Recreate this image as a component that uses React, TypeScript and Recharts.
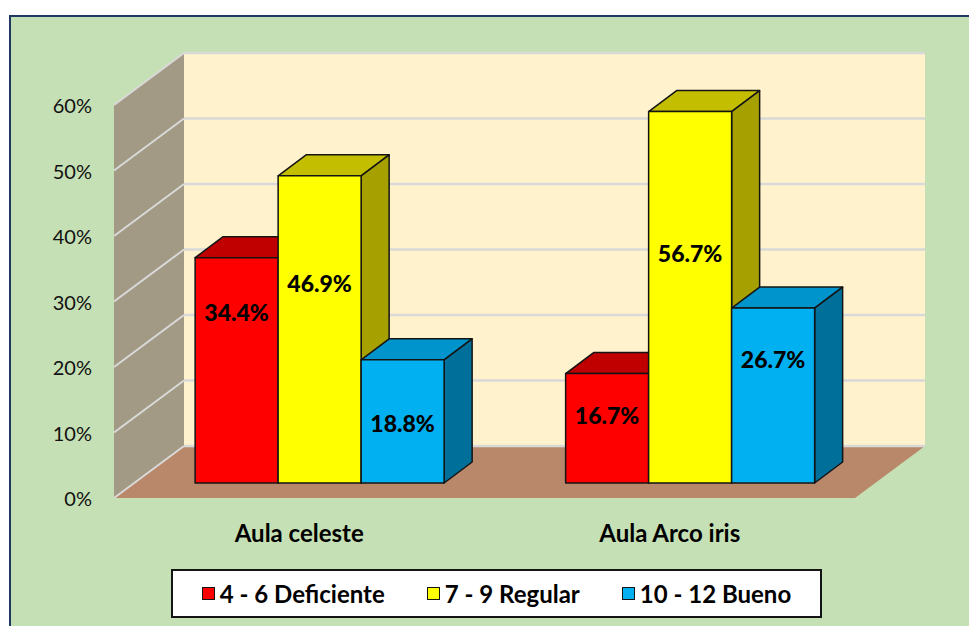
import {
  Bar,
  BarChart,
  CartesianGrid,
  LabelList,
  Legend,
  XAxis,
  YAxis,
} from "recharts";

const CATEGORIES = ["Aula celeste", "Aula Arco iris"];
const DEFICIENTE = [34.4, 16.7];
const REGULAR = [46.9, 56.7];
const BUENO = [18.8, 26.7];
const Y_TICKS = [0, 10, 20, 30, 40, 50, 60];

const W = 969;
const H = 626;
const FONT = "Lato, 'Noto Sans', sans-serif";

// plano frontal de las barras
const PLOT_LEFT = 134;
const PLOT_RIGHT = 875;
const PLOT_TOP = 90;
const PLOT_BOTTOM = 483;
const XAXIS_H = 30;
const YAXIS_W = 60;
const LEGEND_H = 49;

// desplazamientos oblicuos (efecto 3D)
const BAR_DX = 28;
const BAR_DY = 21;
const WALL_DX = 50;
const WALL_DY = 37;
const FRONT_DX = 20;
const FRONT_DY = 15;

const SERIES = [
  {
    key: "deficiente",
    name: "4 - 6 Deficiente",
    values: DEFICIENTE,
    front: "#FF0000",
    top: "#C00000",
    side: "#990000",
    labelAt: [0.24, 0.38],
  },
  {
    key: "regular",
    name: "7 - 9 Regular",
    values: REGULAR,
    front: "#FFFF00",
    top: "#C4BE00",
    side: "#A6A000",
    labelAt: [0.35, 0.38],
  },
  {
    key: "bueno",
    name: "10 - 12 Bueno",
    values: BUENO,
    front: "#00B0F0",
    top: "#0094CC",
    side: "#006F99",
    labelAt: [0.51, 0.29],
  },
];

const data = CATEGORIES.map((name, i) => {
  const row: Record<string, string | number> = { name };
  SERIES.forEach((s) => (row[s.key] = s.values[i]));
  return row;
});

type Colors = { front: string; top: string; side: string };

function Box3D(props: any & { colors: Colors }) {
  const x = Number(props.x);
  const y = Number(props.y);
  const w = Number(props.width);
  const h = Number(props.height);
  const { colors } = props;
  const x2 = x + w;
  const y2 = y + h;
  const line = { stroke: "#141414", strokeWidth: 1.5, strokeLinejoin: "round" as const };
  return (
    <g>
      <polygon
        points={`${x},${y} ${x2},${y} ${x2 + BAR_DX},${y - BAR_DY} ${x + BAR_DX},${y - BAR_DY}`}
        fill={colors.top}
        {...line}
      />
      <polygon
        points={`${x2},${y} ${x2 + BAR_DX},${y - BAR_DY} ${x2 + BAR_DX},${y2 - BAR_DY} ${x2},${y2}`}
        fill={colors.side}
        {...line}
      />
      <rect x={x} y={y} width={w} height={h} fill={colors.front} {...line} />
    </g>
  );
}

function gridLine(p: any) {
  const { x1, y1, x2, index } = p;
  const yb = y1 - WALL_DY;
  return (
    <g key={`grid-${index}`}>
      <line
        x1={x1 - FRONT_DX}
        y1={y1 + FRONT_DY}
        x2={x1 + WALL_DX}
        y2={yb}
        stroke="#D9D9D9"
        strokeWidth={2}
      />
      <line
        x1={x1 + WALL_DX}
        y1={yb}
        x2={x2 + WALL_DX}
        y2={yb}
        stroke="#D9D9D9"
        strokeWidth={2.5}
      />
    </g>
  );
}

function PercentTick(p: any) {
  return (
    <text
      x={PLOT_LEFT - FRONT_DX - 22}
      y={Number(p.y) + FRONT_DY}
      textAnchor="end"
      dominantBaseline="central"
      fontFamily={FONT}
      fontSize={20}
      fill="#111"
    >
      {`${p.payload.value}%`}
    </text>
  );
}

function CategoryTick(p: any) {
  return (
    <text
      x={Number(p.x) - FRONT_DX}
      y={PLOT_BOTTOM + 49}
      textAnchor="middle"
      dominantBaseline="central"
      fontFamily={FONT}
      fontSize={24}
      fontWeight={700}
      fill="#000"
    >
      {p.payload.value}
    </text>
  );
}

function renderLegend() {
  return (
    <div
      style={{
        boxSizing: "border-box",
        width: 651,
        height: LEGEND_H,
        border: "2px solid #141414",
        background: "#fff",
        display: "flex",
        alignItems: "center",
        justifyContent: "center",
        gap: 42,
        fontFamily: FONT,
        fontWeight: 700,
        fontSize: 24,
        color: "#000",
      }}
    >
      {SERIES.map((s) => (
        <span key={s.key} style={{ display: "flex", alignItems: "center" }}>
          <span
            style={{
              display: "inline-block",
              width: 11,
              height: 11,
              background: s.front,
              border: "1.5px solid #141414",
              marginRight: 5,
            }}
          />
          {s.name}
        </span>
      ))}
    </div>
  );
}

function Walls() {
  const fl = PLOT_LEFT - FRONT_DX;
  const fr = PLOT_RIGHT - FRONT_DX;
  const fb = PLOT_BOTTOM + FRONT_DY;
  const ft = PLOT_TOP + FRONT_DY;
  const bl = PLOT_LEFT + WALL_DX;
  const br = PLOT_RIGHT + WALL_DX;
  const bt = PLOT_TOP - WALL_DY;
  const bb = PLOT_BOTTOM - WALL_DY;
  return (
    <svg width={W} height={H} style={{ position: "absolute", left: 0, top: 0 }}>
      <rect x={0} y={0} width={W} height={H} fill="#fff" />
      <rect x={10} y={16} width={W + 20} height={H + 20} fill="#C5E0B4" stroke="#1F3864" strokeWidth={2} />
      <rect x={bl} y={bt} width={br - bl} height={bb - bt} fill="#FFF2CC" />
      <polygon points={`${fl},${ft} ${bl},${bt} ${bl},${bb} ${fl},${fb}`} fill="#A29A84" />
      <polygon points={`${fl},${fb} ${fr},${fb} ${br},${bb} ${bl},${bb}`} fill="#B9876A" />
    </svg>
  );
}

export default function App() {
  return (
    <div
      style={{
        position: "absolute",
        left: 0,
        top: 0,
        width: W,
        height: H,
        overflow: "hidden",
      }}
    >
      <Walls />
      <div style={{ position: "absolute", left: 0, top: 0 }}>
        <BarChart
          width={W}
          height={H}
          data={data}
          barCategoryGap="16.5%"
          barGap={0}
          margin={{
            top: PLOT_TOP,
            right: W - PLOT_RIGHT,
            left: PLOT_LEFT - YAXIS_W,
            bottom: H - PLOT_BOTTOM - XAXIS_H - LEGEND_H,
          }}
        >
          <CartesianGrid vertical={false} horizontal={gridLine} />
          <XAxis
            dataKey="name"
            height={XAXIS_H}
            axisLine={false}
            tickLine={false}
            tick={<CategoryTick />}
            interval={0}
          />
          <YAxis
            width={YAXIS_W}
            domain={[0, 60]}
            ticks={Y_TICKS}
            axisLine={false}
            tickLine={false}
            tick={<PercentTick />}
            interval={0}
          />
          <Legend
            verticalAlign="bottom"
            height={LEGEND_H}
            wrapperStyle={{ left: 171, bottom: 8, width: 651, height: LEGEND_H }}
            content={renderLegend}
          />
          {SERIES.map((s) => (
            <Bar
              key={s.key}
              dataKey={s.key}
              name={s.name}
              fill={s.front}
              isAnimationActive={false}
              shape={(p: any) => <Box3D {...p} colors={s} />}
            >
              <LabelList
                dataKey={s.key}
                content={(p: any) => {
                  const x = Number(p.x);
                  const y = Number(p.y);
                  const w = Number(p.width);
                  const h = Number(p.height);
                  const at = s.labelAt[p.index] ?? 0.4;
                  return (
                    <text
                      x={x + w / 2}
                      y={y + h * at}
                      textAnchor="middle"
                      dominantBaseline="central"
                      fontFamily={FONT}
                      fontSize={23}
                      fontWeight={900}
                      fill="#000"
                    >
                      {`${Number(p.value).toFixed(1)}%`}
                    </text>
                  );
                }}
              />
            </Bar>
          ))}
        </BarChart>
      </div>
    </div>
  );
}
